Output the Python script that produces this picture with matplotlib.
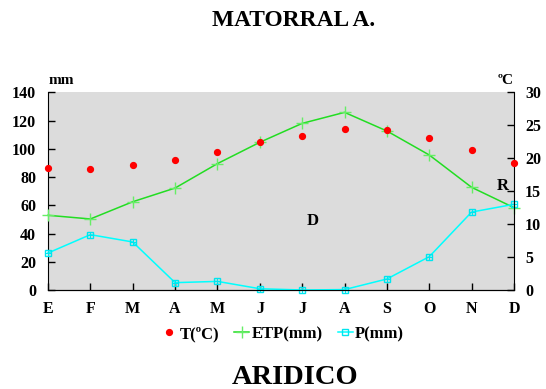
import matplotlib
matplotlib.use('Agg')
import matplotlib.pyplot as plt

# monthly climate data
months = ['E', 'F', 'M', 'A', 'M', 'J', 'J', 'A', 'S', 'O', 'N', 'D']
temp_c = [18.5, 18.4, 18.9, 19.7, 20.9, 22.4, 23.3, 24.4, 24.3, 23.0, 21.3, 19.3]
etp_mm = [52.9, 50.3, 62.5, 72.2, 89.5, 104.6, 118.0, 125.8, 112.6, 95.6, 72.7, 58.3]
prec_mm = [26.2, 39.2, 34.0, 5.2, 6.1, 0.9, 0.0, 0.3, 7.8, 23.6, 55.2, 60.7]

plt.rcParams['font.family'] = ['Liberation Serif', 'DejaVu Serif']
plt.rcParams['font.weight'] = 'bold'

fig = plt.figure(figsize=(5.46, 3.89), dpi=100)
ax = fig.add_axes([48 / 546, 1 - 290 / 389, 466 / 546, 197.7 / 389])
ax.set_facecolor('#dcdcdc')
x = list(range(len(months)))

ax2 = ax.twinx()
ax2.set_ylim(0, 30)
ax2.set_yticks(range(0, 31, 5))

etp_line, = ax.plot(x, etp_mm, color='#22dd22', lw=1.1, marker='+', ms=8,
                    mec='#66ee66', mew=1.0, zorder=3, clip_on=False)
prec_line, = ax.plot(x, prec_mm, color='#00ffff', lw=1.1, marker='s', ms=5,
                     mfc='none', mec='#00e5ee', mew=1.0, zorder=3, clip_on=False)
ax.plot(x, prec_mm, ls='none', marker='+', ms=5, mec='#00e5ee', mew=0.8,
        zorder=3, clip_on=False)
temp_pts, = ax2.plot(x, temp_c, ls='none', marker='o', ms=4.2, color='red',
                     zorder=4, clip_on=False)

ax.set_xlim(0, 11)
ax.set_ylim(0, 140)
ax.set_yticks(range(0, 141, 20))
ax.set_xticks(x)
ax.set_xticklabels(months)

for a in (ax, ax2):
    a.spines['top'].set_visible(False)
    a.tick_params(direction='in', length=5, width=1, labelsize=11.5, pad=8.5)
ax.spines['right'].set_visible(False)
ax2.spines['left'].set_visible(False)
ax.tick_params(axis='x', pad=8)
ax2.tick_params(axis='y', pad=8)

ax.text(6.26, 49, 'D', fontsize=12, ha='center', va='center')
ax.text(10.73, 74, 'R', fontsize=12, ha='center', va='center')

fig.text(61 / 546, 1 - 81 / 389, 'mm', fontsize=11, ha='center', va='center')
fig.text(506 / 546, 1 - 81 / 389, 'ºC', fontsize=11, ha='center', va='center')
fig.text(294 / 546, 1 - 21 / 389, 'MATORRAL A.', fontsize=16.8, ha='center', va='center')
fig.text(295 / 546, 1 - 377 / 389, 'ARIDICO', fontsize=20.5, ha='center', va='center')

fig.legend([temp_pts, etp_line, prec_line], ['T(ºC)', 'ETP(mm)', 'P(mm)'],
           loc='center', bbox_to_anchor=(283 / 546, 1 - 334 / 389), ncol=3,
           frameon=False, fontsize=12, handlelength=0.9, handletextpad=0.15,
           columnspacing=0.9)

fig.savefig('out.png', dpi=100)
